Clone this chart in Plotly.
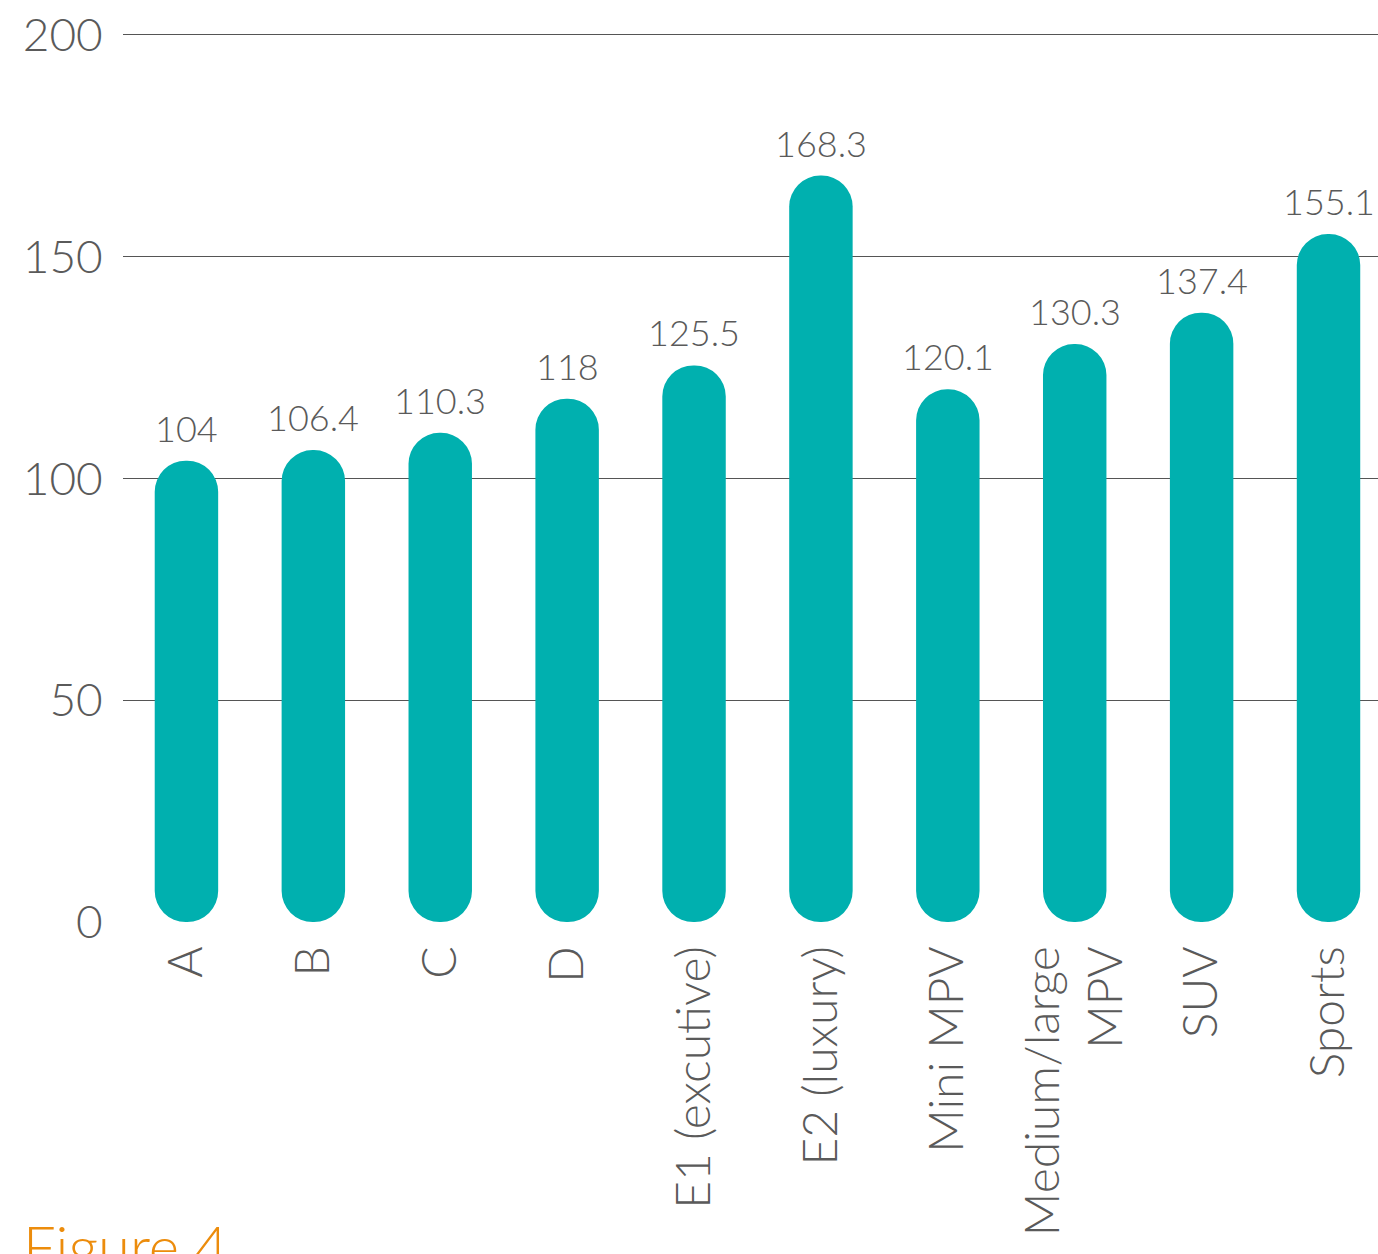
import plotly.graph_objects as go

categories = ["A", "B", "C", "D", "E1 (excutive)", "E2 (luxury)", "Mini MPV",
              "Medium/large<br>MPV", "SUV", "Sports"]
values = [104, 106.4, 110.3, 118, 125.5, 168.3, 120.1, 130.3, 137.4, 155.1]
value_labels = ["104", "106.4", "110.3", "118", "125.5", "168.3", "120.1", "130.3", "137.4", "155.1"]
y_ticks = [0, 50, 100, 150, 200]

TEAL = "#00B0AF"
GRAY = "#5a5a5a"
FONT = "Lato"

W, H = 1378, 1254
ML, MR, MT, MB = 123, 0, 31, 332

fig = go.Figure()
# explicit base -> plotly rounds both ends of the bar
fig.add_trace(go.Bar(x=categories, y=values, base=[0] * len(values),
                     marker=dict(color=TEAL, cornerradius="50%", line=dict(width=0)),
                     width=0.5, hoverinfo="skip", showlegend=False))

for c, v, t in zip(categories, values, value_labels):
    fig.add_annotation(x=c, y=v, text=t, showarrow=False, yanchor="bottom", yshift=9,
                       font=dict(family=FONT, size=36, color=GRAY, weight=300))

ph = H - MT - MB
fig.add_annotation(xref="paper", yref="paper", x=(21 - ML) / (W - ML - MR),
                   y=(H - MB - 1209) / ph, xanchor="left", yanchor="top",
                   text="Figure 4", showarrow=False,
                   font=dict(family=FONT, size=58, color="#EC8C0C", weight=300))

fig.update_layout(
    width=W, height=H,
    margin=dict(l=ML, r=MR, t=MT, b=MB),
    plot_bgcolor="white", paper_bgcolor="white",
    font=dict(family=FONT, color=GRAY, weight=300),
    xaxis=dict(type="category", range=[-0.5, 9.39], showgrid=False, zeroline=False,
               showline=False, tickangle=-90, tickfont=dict(size=48, color=GRAY, weight=300),
               ticks="outside", ticklen=4, tickcolor="rgba(0,0,0,0)"),
    yaxis=dict(range=[0, 200.9], tickvals=y_ticks, showgrid=True, gridcolor="#555555",
               gridwidth=1, zeroline=True, zerolinecolor="rgba(0,0,0,0)", showline=False,
               tickfont=dict(size=46, color=GRAY, weight=300),
               ticks="outside", ticklen=10, tickcolor="rgba(0,0,0,0)"),
)

fig.write_html("out.html")
